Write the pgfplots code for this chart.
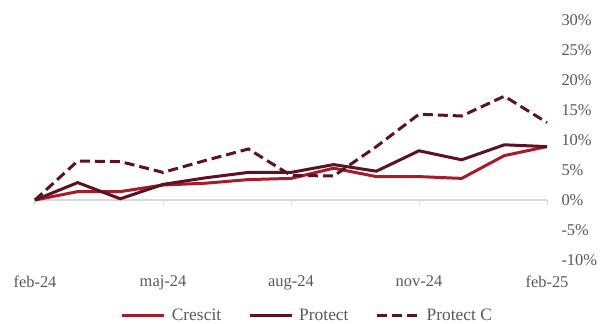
\documentclass[border=0pt]{standalone}
\usepackage{fontspec}
\setmainfont{Liberation Serif}
\usepackage{pgfplots}
\pgfplotsset{compat=1.18}
\definecolor{cres}{HTML}{A51D2D}
\definecolor{prot}{HTML}{5B1322}
\definecolor{txt}{HTML}{595959}
\definecolor{axl}{HTML}{D9D9D9}
\begin{document}
\begin{tikzpicture}
\begin{axis}[
  scale only axis, width=512bp, height=240bp,
  xmin=0, xmax=12, ymin=-10, ymax=30,
  axis line style={draw=none}, tick style={draw=none},
  clip=false,
  xtick={0,3,6,9,12},
  xticklabels={feb-24,maj-24,aug-24,nov-24,feb-25},
  ytick={-10,-5,...,30},
  yticklabel pos=right,
  yticklabel={\pgfmathprintnumber{\tick}\%},
  /pgf/number format/assume math mode=true,
  yticklabel style={anchor=west, xshift=11bp},
  xticklabel style={yshift=-12bp},
  every tick label/.append style={font=\fontsize{16.5}{19}\selectfont, text=txt},
  legend style={at={(0.531,-0.232)}, anchor=center, draw=none, fill=none,
    legend columns=-1, font=\fontsize{17.5}{20}\selectfont, text=txt,
    nodes={inner sep=1bp},
    /tikz/every odd column/.append style={column sep=5bp},
    /tikz/every even column/.append style={column sep=26bp}},
  legend image code/.code={\draw[#1] (0bp,0bp) -- (42bp,0bp);},
]
\draw[axl, line width=1.2bp] (axis cs:0,0) -- (axis cs:12,0);
\draw[axl, line width=1bp] (axis cs:0,0) -- ([yshift=-5bp]axis cs:0,0);
\draw[axl, line width=1bp] (axis cs:3,0) -- ([yshift=-5bp]axis cs:3,0);
\draw[axl, line width=1bp] (axis cs:6,0) -- ([yshift=-5bp]axis cs:6,0);
\draw[axl, line width=1bp] (axis cs:9,0) -- ([yshift=-5bp]axis cs:9,0);
\draw[axl, line width=1bp] (axis cs:12,0) -- ([yshift=-5bp]axis cs:12,0);
\coordinate (sw) at (rel axis cs:0,0);
\coordinate (ne) at (rel axis cs:1,1);
\addplot[cres, line width=3bp, no marks] coordinates {(0,0)(1,1.4)(2,1.4)(3,2.5)(4,2.8)(5,3.4)(6,3.6)(7,5.3)(8,3.9)(9,3.9)(10,3.6)(11,7.4)(12,8.9)};
\addlegendentry{Crescit}
\addplot[prot, line width=3bp, no marks] coordinates {(0,0)(1,2.9)(2,0.2)(3,2.6)(4,3.7)(5,4.6)(6,4.6)(7,5.9)(8,4.8)(9,8.2)(10,6.7)(11,9.2)(12,8.9)};
\addlegendentry{Protect}
\addplot[prot, line width=3bp, no marks, dash pattern=on 10bp off 5bp] coordinates {(0,0)(1,6.5)(2,6.4)(3,4.6)(4,6.6)(5,8.5)(6,4.1)(7,4.0)(8,8.9)(9,14.3)(10,14.0)(11,17.3)(12,12.9)};
\addlegendentry{Protect C}
\end{axis}
\pgfresetboundingbox
\path ([shift={(-35bp,-64bp)}]sw) rectangle ([shift={(54bp,20bp)}]ne);
\end{tikzpicture}
\end{document}
